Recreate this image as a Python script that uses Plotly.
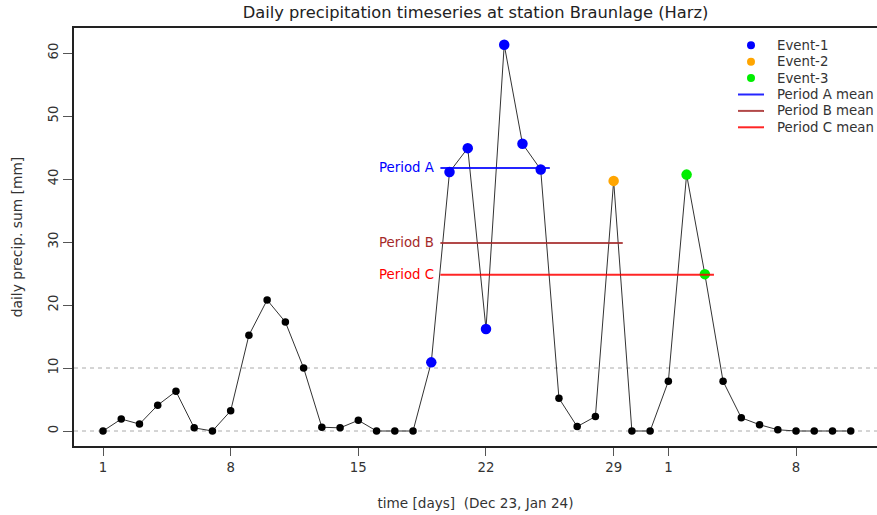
import plotly.graph_objects as go

# Daily precipitation sums [mm], Braunlage (Harz), 1 Dec 2023 - 11 Jan 2024
precip = [0.0, 1.9, 1.1, 4.1, 6.3, 0.5, 0.0, 3.2, 15.2, 20.8, 17.3, 10.0,
          0.6, 0.5, 1.7, 0.0, 0.0, 0.0, 10.9, 41.1, 44.9, 16.2, 61.3, 45.6,
          41.5, 5.2, 0.7, 2.3, 39.7, 0.0, 0.0,
          7.9, 40.7, 24.9, 7.9, 2.1, 1.0, 0.2, 0.0, 0.0, 0.0, 0.0]
days = list(range(1, len(precip) + 1))

# tick positions (day index) and labels (day of month)
tick_days = [1, 8, 15, 22, 29, 32, 39]
tick_labels = ["1", "8", "15", "22", "29", "1", "8"]

# event days (day index) and colours
events = [
    ("Event-1", [19, 20, 21, 22, 23, 24, 25], "#0000ff"),
    ("Event-2", [29], "#ffa500"),
    ("Event-3", [33, 34], "#00ee00"),
]

# averaging periods: (name, first day, last day, colour)
periods = [
    ("Period A", 20, 25, "#0000ff"),
    ("Period B", 20, 29, "#a52a2a"),
    ("Period C", 20, 34, "#ff0000"),
]

FONT = "DejaVu Sans"
W, H = 877, 515
ML, MR, MT, MB = 74, 0, 28, 69
PW, PH = W - ML - MR, H - MT - MB


def px_to_paper(px, py):
    """Convert window pixel coordinates to paper coordinates."""
    return (px - ML) / PW, (H - MB - py) / PH


fig = go.Figure()

# reference levels
for level in [0, 10]:
    fig.add_hline(y=level, line=dict(color="#aaaaaa", width=1, dash="4px,4px"), layer="below")

# time series
fig.add_trace(go.Scatter(
    x=days, y=precip, mode="lines+markers",
    line=dict(color="#333333", width=1),
    marker=dict(color="black", size=7.5),
    showlegend=False, hoverinfo="x+y"))

# event markers
for name, ev_days, col in events:
    fig.add_trace(go.Scatter(
        x=ev_days, y=[precip[d - 1] for d in ev_days], mode="markers",
        marker=dict(color=col, size=10.5), name=name, showlegend=False))

# period means
for name, d0, d1, col in periods:
    vals = precip[d0 - 1:d1]
    mean = sum(vals) / len(vals)
    fig.add_trace(go.Scatter(
        x=[d0 - 0.5, d1 + 0.5], y=[mean, mean], mode="lines",
        line=dict(color=col, width=2), opacity=0.85, name=name + " mean",
        showlegend=False))
    fig.add_annotation(
        x=d0 - 0.5, y=mean, text=name, showarrow=False,
        xanchor="right", yanchor="middle", xshift=-4,
        font=dict(family=FONT, size=13.3, color=col))

# legend (top right, inside the plot box)
legend_rows = [(name, col, "marker") for name, _, col in events] + \
              [(name + " mean", col, "line") for name, _, _, col in periods]
row_y0, row_dy = 45.3, 16.4
for i, (label, col, kind) in enumerate(legend_rows):
    py = row_y0 + i * row_dy
    if kind == "marker":
        x0, y0 = px_to_paper(751 - 4, py - 4)
        x1, y1 = px_to_paper(751 + 4, py + 4)
        fig.add_shape(type="circle", xref="paper", yref="paper",
                      x0=x0, x1=x1, y0=y1, y1=y0,
                      fillcolor=col, line=dict(width=0))
    else:
        x0, yy = px_to_paper(738, py)
        x1, _ = px_to_paper(764, py)
        fig.add_shape(type="line", xref="paper", yref="paper",
                      x0=x0, x1=x1, y0=yy, y1=yy,
                      line=dict(color=col, width=2), opacity=0.85)
    tx, ty = px_to_paper(775, py)
    fig.add_annotation(xref="paper", yref="paper", x=tx, y=ty, text=label,
                       showarrow=False, xanchor="left", yanchor="middle",
                       font=dict(family=FONT, size=13.3, color="#333333"))

fig.update_layout(
    width=W, height=H,
    margin=dict(l=ML, r=MR, t=MT, b=MB),
    paper_bgcolor="white", plot_bgcolor="white",
    font=dict(family=FONT, size=13, color="#333333"),
    title=dict(text="Daily precipitation timeseries at station Braunlage (Harz)",
               x=0.5, xref="paper", y=1 - 12 / H, yref="container",
               xanchor="center", yanchor="middle",
               font=dict(family=FONT, size=16.3, color="#222222")),
    showlegend=False,
)

fig.update_xaxes(
    range=[-0.59, 43.44], tickvals=tick_days, ticktext=tick_labels,
    showgrid=False, zeroline=False,
    showline=True, linecolor="#222222", linewidth=2, mirror=True,
    ticks="outside", ticklen=8, tickcolor="#555555", tickwidth=1,
    tickfont=dict(family=FONT, size=13.3, color="#333333"),
    title=dict(text="time [days] \u00a0(Dec 23, Jan 24)", standoff=25,
               font=dict(family=FONT, size=13.6, color="#333333")),
)
fig.update_yaxes(
    range=[-2.38, 63.97], tickvals=[0, 10, 20, 30, 40, 50, 60],
    tickangle=-90, showgrid=False, zeroline=False,
    showline=True, linecolor="#222222", linewidth=2,
    ticks="outside", ticklen=9, tickcolor="#555555", tickwidth=1,
    tickfont=dict(family=FONT, size=13.3, color="#333333"),
    title=dict(text="daily precip. sum [mm]", standoff=20,
               font=dict(family=FONT, size=13.8, color="#333333")),
)

fig.write_html("out.html")
